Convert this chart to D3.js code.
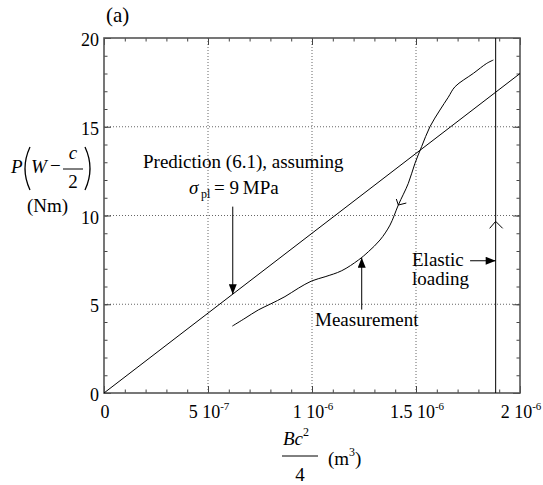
<!DOCTYPE html>
<html>
<head>
<meta charset="utf-8">
<script src="https://cdn.jsdelivr.net/npm/d3@7"></script>
<style>
  body { margin: 0; background: #fff; }
  svg text, svg tspan { font-family: "Liberation Serif", "DejaVu Serif", serif; fill: #000; }
</style>
</head>
<body>
<div id="chart"></div>
<script>
// chart values
var xMajor = [0, 5e-7, 1e-6, 1.5e-6, 2e-6];
var xTickLabels = [["0", ""], ["5 10", "-7"], ["1 10", "-6"], ["1.5 10", "-6"], ["2 10", "-6"]];
var yMajor = [0, 5, 10, 15, 20];
var yTickLabels = ["0", "5", "10", "15", "20"];

// prediction (6.1) with sigma_pl = 9 MPa
var prediction = [[0, 0], [2e-6, 18]];

// measured curve, x in m^3, y in Nm
var measurement = [
  [0.617e-6, 3.77], [0.678e-6, 4.21], [0.742e-6, 4.68], [0.798e-6, 5.0], [0.870e-6, 5.43],
  [0.934e-6, 5.9], [0.998e-6, 6.31], [1.063e-6, 6.55], [1.143e-6, 6.89], [1.223e-6, 7.49],
  [1.271e-6, 7.96], [1.327e-6, 8.62], [1.375e-6, 9.46], [1.415e-6, 10.59], [1.463e-6, 11.81],
  [1.495e-6, 12.94], [1.527e-6, 13.88], [1.567e-6, 15.0], [1.615e-6, 15.94], [1.655e-6, 16.66],
  [1.688e-6, 17.26], [1.776e-6, 18.01], [1.84e-6, 18.57], [1.872e-6, 18.76]
];

var elasticX = 1.883e-6;

(function() {

  init();

  function init() {
    var width = 543;
    var height = 485;

    var svg = d3.select('#chart')
      .append('svg')
      .attr('width', width)
      .attr('height', height);

    var x = d3.scaleLinear().domain([0, 2e-6]).range([104, 520]);
    var y = d3.scaleLinear().domain([0, 20]).range([393, 38]);

    var defs = svg.append('defs');
    defs.append('marker')
      .attr('id', 'head')
      .attr('markerUnits', 'userSpaceOnUse')
      .attr('viewBox', '0 0 10 8')
      .attr('refX', 10).attr('refY', 4)
      .attr('markerWidth', 11).attr('markerHeight', 8)
      .attr('orient', 'auto')
      .append('path')
      .attr('d', 'M0,0 L10,4 L0,8 Z')
      .attr('fill', '#000');

    // dotted grid at major ticks
    var grid = svg.append('g')
      .attr('stroke', '#666')
      .attr('stroke-width', 1)
      .attr('stroke-dasharray', '1,2');

    grid.selectAll('.gx')
      .data(xMajor.slice(1, -1))
      .enter().append('line')
      .attr('x1', function(d) { return x(d); })
      .attr('x2', function(d) { return x(d); })
      .attr('y1', y(0)).attr('y2', y(20));

    grid.selectAll('.gy')
      .data(yMajor.slice(1, -1))
      .enter().append('line')
      .attr('y1', function(d) { return y(d); })
      .attr('y2', function(d) { return y(d); })
      .attr('x1', x(0)).attr('x2', x(2e-6));

    // inward ticks on all four sides
    var xMinor = d3.range(0, 21).map(function(i) { return i * 1e-7; });
    var yMinor = d3.range(0, 21);

    function ticks(axis, transform) {
      var g = svg.append('g').attr('transform', transform).call(axis);
      g.select('.domain').remove();
      g.selectAll('line').attr('stroke', '#444');
      return g;
    }

    ticks(d3.axisBottom(x).tickValues(xMinor).tickSize(-3.5).tickFormat(''), 'translate(0,' + y(0) + ')');
    ticks(d3.axisBottom(x).tickValues(xMajor).tickSize(-7).tickFormat(''), 'translate(0,' + y(0) + ')');
    ticks(d3.axisTop(x).tickValues(xMinor).tickSize(-3.5).tickFormat(''), 'translate(0,' + y(20) + ')');
    ticks(d3.axisTop(x).tickValues(xMajor).tickSize(-7).tickFormat(''), 'translate(0,' + y(20) + ')');
    ticks(d3.axisLeft(y).tickValues(yMinor).tickSize(-3.5).tickFormat(''), 'translate(' + x(0) + ',0)');
    ticks(d3.axisLeft(y).tickValues(yMajor).tickSize(-7).tickFormat(''), 'translate(' + x(0) + ',0)');
    ticks(d3.axisRight(y).tickValues(yMinor).tickSize(-3.5).tickFormat(''), 'translate(' + x(2e-6) + ',0)');
    ticks(d3.axisRight(y).tickValues(yMajor).tickSize(-7).tickFormat(''), 'translate(' + x(2e-6) + ',0)');

    // frame
    svg.append('rect')
      .attr('x', x(0)).attr('y', y(20))
      .attr('width', x(2e-6) - x(0)).attr('height', y(0) - y(20))
      .attr('fill', 'none')
      .attr('stroke', '#555')
      .attr('stroke-width', 1.6);

    // tick labels
    var xl = svg.append('g').attr('font-size', 18).attr('text-anchor', 'middle');
    xMajor.forEach(function(v, i) {
      var t = xl.append('text').attr('x', x(v) + 1).attr('y', y(0) + 25);
      t.append('tspan').text(xTickLabels[i][0]);
      if (xTickLabels[i][1]) {
        t.append('tspan').attr('font-size', 11).attr('dy', -8).text(xTickLabels[i][1]);
      }
    });

    svg.append('g').attr('font-size', 18).attr('text-anchor', 'end')
      .selectAll('text')
      .data(yMajor)
      .enter().append('text')
      .attr('x', x(0) - 5)
      .attr('y', function(d) { return y(d) + 8; })
      .text(function(d, i) { return yTickLabels[i]; });

    var lines = svg.append('g')
      .attr('fill', 'none')
      .attr('stroke', '#000')
      .attr('stroke-width', 1);

    var line = d3.line()
      .x(function(d) { return x(d[0]); })
      .y(function(d) { return y(d[1]); });

    lines.append('path')
      .attr('d', line(prediction));

    lines.append('path')
      .attr('d', line.curve(d3.curveCatmullRom)(measurement));
    line.curve(d3.curveLinear);

    lines.append('line')
      .attr('x1', x(elasticX)).attr('x2', x(elasticX))
      .attr('y1', y(0)).attr('y2', y(20));

    // open chevron on the elastic loading line (pointing up)
    var cx = x(elasticX), cy = y(9.67);
    lines.append('path')
      .attr('d', 'M' + (cx - 6) + ',' + (cy + 7) + 'L' + cx + ',' + cy + 'L' + (cx + 7) + ',' + (cy + 7));

    // open arrowhead on the measured curve (unloading goes down the curve)
    var tip = [x(1.415e-6), y(10.59)];
    lines.append('path')
      .attr('d', 'M' + (tip[0] - 2) + ',' + (tip[1] - 6) + 'L' + tip[0] + ',' + tip[1] +
        'L' + (tip[0] + 8) + ',' + (tip[1] - 2));

    // annotation arrows
    var arrows = [
      [[0.619e-6, 10.5], [0.619e-6, 5.57]],
      [[1.239e-6, 4.7], [1.239e-6, 7.62]],
      [[1.76e-6, 7.45], [elasticX, 7.45]]
    ];
    lines.selectAll('.arrow')
      .data(arrows)
      .enter().append('path')
      .attr('d', function(d) { return line(d); })
      .attr('marker-end', 'url(#head)');

    // annotation texts
    var notes = svg.append('g').attr('font-size', 19);
    notes.append('text').attr('x', 143).attr('y', 168).text('Prediction (6.1), assuming');
    notes.append('text').attr('x', 189).attr('y', 194).attr('font-style', 'italic').text('\u03c3');
    notes.append('text').attr('x', 201).attr('y', 198).attr('font-size', 12).text('pl');
    notes.append('text').attr('x', 214).attr('y', 194).text('= 9\u2009MPa');
    notes.append('text').attr('x', 315).attr('y', 326).text('Measurement');
    notes.append('text').attr('x', 412).attr('y', 266).text('Elastic');
    notes.append('text').attr('x', 412).attr('y', 285).text('loading');

    svg.append('text').attr('x', 106).attr('y', 22).attr('font-size', 21).text('(a)');

    // y axis label: P(W - c/2) (Nm)
    var yl = svg.append('g').attr('font-size', 19);
    yl.append('text').attr('x', 11).attr('y', 173).attr('font-style', 'italic').text('P');
    yl.append('text').attr('x', 31).attr('y', 173).attr('font-style', 'italic').text('W');
    yl.append('text').attr('x', 50).attr('y', 172).text('\u2212');
    yl.append('text').attr('x', 73).attr('y', 159).attr('text-anchor', 'middle')
      .attr('font-style', 'italic').text('c');
    yl.append('text').attr('x', 73).attr('y', 188).attr('text-anchor', 'middle').text('2');
    yl.append('text').attr('x', 27).attr('y', 212).text('(Nm)');

    var marks = yl.append('g').attr('fill', 'none').attr('stroke', '#000');
    marks.append('line').attr('x1', 63).attr('x2', 83).attr('y1', 169).attr('y2', 169);
    // tall parentheses
    marks.append('path').attr('stroke-width', 1.3)
      .attr('d', 'M30,147 Q20,168.5 30,190');
    marks.append('path').attr('stroke-width', 1.3)
      .attr('d', 'M85,147 Q95,168.5 85,190');

    // x axis label: Bc^2/4 (m^3)
    var xlab = svg.append('g').attr('font-size', 19);
    var bc = xlab.append('text').attr('x', 283).attr('y', 445).attr('font-style', 'italic');
    bc.append('tspan').text('Bc');
    bc.append('tspan').attr('font-size', 12).attr('dy', -9).attr('font-style', 'normal').text('2');
    xlab.append('line').attr('x1', 282).attr('x2', 318).attr('y1', 456).attr('y2', 456)
      .attr('stroke', '#000').attr('stroke-width', 1);
    xlab.append('text').attr('x', 300).attr('y', 481).attr('text-anchor', 'middle').text('4');
    var m3 = xlab.append('text').attr('x', 328).attr('y', 465);
    m3.append('tspan').text('(m');
    m3.append('tspan').attr('font-size', 12).attr('dy', -9).text('3');
    m3.append('tspan').attr('dy', 9).text(')');
  }

})()
</script>
</body>
</html>
